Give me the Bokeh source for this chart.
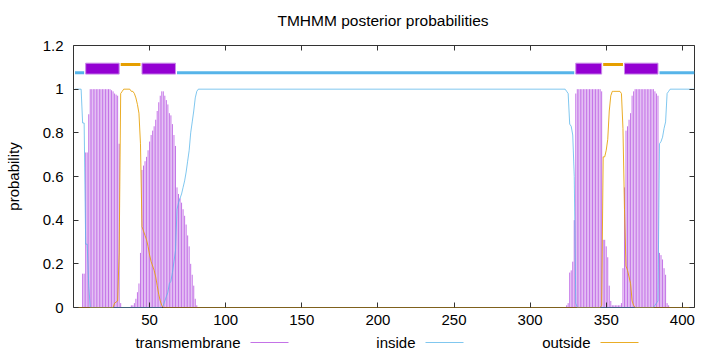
from bokeh.plotting import figure
from bokeh.layouts import column
from bokeh.models import (Range1d, LinearAxis, FixedTicker, CustomJSTickFormatter)
from bokeh.core.properties import value
from bokeh.embed import file_html
from bokeh.resources import INLINE

# ---------------- data ----------------
title_text = "TMHMM posterior probabilities"
y_label = "probability"
legend_names = ["transmembrane", "inside", "outside"]

seq_len = 408
x_ticks = [50, 100, 150, 200, 250, 300, 350, 400]
y_ticks = [0, 0.2, 0.4, 0.6, 0.8, 1.0, 1.2]
y_tick_labels = ["0", "0.2", "0.4", "0.6", "0.8", "1", "1.2"]

# predicted topology (top bar)
topo_start = [1, 8, 31, 45, 68, 330, 348, 362, 385]
topo_end = [7, 30, 44, 67, 329, 347, 361, 384, 408]
topo_kind = ["inside", "TMhelix", "outside", "TMhelix", "inside",
             "TMhelix", "outside", "TMhelix", "inside"]

# transmembrane posterior probability (impulses), residues with non-zero values
tm_pos = (list(range(6, 32)) + list(range(38, 82)) +
          list(range(324, 355)) + list(range(355, 392)))
tm_prob = (
    [0.155, 0.155, 0.71, 0.71, 0.885] + [1.0] * 14 +
    [0.995, 0.99, 0.98, 0.975, 0.97, 0.75, 0.02] +
    [0.01, 0.01, 0.02, 0.04, 0.07, 0.11, 0.25, 0.63, 0.65, 0.67, 0.69, 0.72,
     0.76, 0.79, 0.81, 0.83, 0.86, 0.90, 0.94, 0.97, 0.99, 0.99, 0.97, 0.95,
     0.93, 0.89, 0.88, 0.84, 0.79, 0.74, 0.55, 0.52, 0.50, 0.48, 0.45, 0.42,
     0.38, 0.33, 0.28, 0.20, 0.15, 0.10, 0.04, 0.01] +
    [0.01, 0.02, 0.16, 0.17, 0.21, 0.40, 0.98] + [1.0] * 16 +
    [0.99, 0.31, 0.31, 0.28, 0.23, 0.10, 0.03, 0.01] +
    [0.01, 0.01, 0.01, 0.01, 0.01, 0.02, 0.18, 0.55, 0.81, 0.83, 0.86, 0.89,
     0.97, 0.99] + [1.0] * 13 +
    [0.99, 0.98, 0.97, 0.25, 0.24, 0.22, 0.18, 0.15, 0.02, 0.01]
)

# inside posterior probability
inside_pos = ([1, 5, 6, 7, 8, 9, 10, 11] + list(range(58, 83)) +
              list(range(323, 332)) + list(range(381, 393)) + [408])
inside_prob = ([1.0, 1.0, 0.845, 0.845, 0.29, 0.29, 0.1, 0.0] +
               [0.0, 0.01, 0.03, 0.05, 0.07, 0.11, 0.12, 0.16, 0.21, 0.26,
                0.45, 0.48, 0.50, 0.52, 0.55, 0.58, 0.62, 0.67, 0.72, 0.80,
                0.85, 0.90, 0.96, 0.99, 1.0] +
               [1.0, 0.99, 0.98, 0.84, 0.83, 0.79, 0.60, 0.02, 0.0] +
               [0.0, 0.01, 0.02, 0.03, 0.75, 0.76, 0.78, 0.82, 0.85, 0.98,
                0.99, 1.0] + [1.0])

# outside posterior probability
outside_pos = ([1, 26] + list(range(27, 34)) + list(range(37, 60)) +
               list(range(346, 356)) + list(range(359, 370)) + [408])
outside_prob = ([0.0, 0.0] +
                [0.02, 0.025, 0.03, 0.25, 0.98, 0.99, 1.0] +
                [1.0, 0.99, 0.99, 0.98, 0.96, 0.93, 0.89, 0.75, 0.37, 0.35,
                 0.33, 0.31, 0.28, 0.24, 0.21, 0.19, 0.17, 0.14, 0.10, 0.06,
                 0.03, 0.01, 0.0] +
                [0.0, 0.01, 0.69, 0.69, 0.72, 0.77, 0.90, 0.97, 0.99, 0.99] +
                [0.99, 0.98, 0.82, 0.45, 0.19, 0.17, 0.14, 0.11, 0.03, 0.01,
                 0.0] + [0.0])

# ---------------- styling ----------------
FONT = "Liberation Sans"
FS = "15px"
C_TM = "#9400d3"
C_IN = "#56b4e9"
C_OUT = "#e69f00"
A_TM, A_IN, A_OUT = 0.55, 0.75, 0.85

W = 720
H_TITLE = 35
H_LEG = 18
H_MAIN = 352 - H_TITLE - H_LEG
ML, MR = 73, 26
MT = 45 - H_TITLE
MB = H_MAIN + H_TITLE - 307

p = figure(width=W, height=H_MAIN, output_backend="svg", toolbar_location=None,
           title=None,
           x_range=Range1d(0, seq_len), y_range=Range1d(0, 1.2),
           x_axis_type=None, y_axis_type=None,
           min_border_left=ML, min_border_right=MR,
           min_border_top=MT, min_border_bottom=MB)
p.grid.visible = False
p.outline_line_color = "#333333"
p.outline_line_width = 1
p.background_fill_color = "white"
p.border_fill_color = "white"


def style_axis(ax, show_labels):
    ax.axis_line_color = None
    ax.major_tick_in = 5
    ax.major_tick_out = 0
    ax.major_tick_line_color = "#333333"
    ax.minor_tick_line_color = None
    ax.major_label_text_font = FONT
    ax.major_label_text_font_size = FS
    ax.major_label_text_color = "black"
    if not show_labels:
        ax.formatter = CustomJSTickFormatter(code="return ''")
        ax.major_label_standoff = 0


xb = LinearAxis(ticker=FixedTicker(ticks=x_ticks))
style_axis(xb, True)
xb.major_label_standoff = 7
p.add_layout(xb, "below")

xt = LinearAxis(ticker=FixedTicker(ticks=x_ticks))
style_axis(xt, False)
p.add_layout(xt, "above")

yl = LinearAxis(ticker=FixedTicker(ticks=y_ticks))
style_axis(yl, True)
yl.major_label_overrides = {t: s for t, s in zip(y_ticks, y_tick_labels)}
yl.major_label_standoff = 10
yl.axis_label = y_label
yl.axis_label_text_font = FONT
yl.axis_label_text_font_size = FS
yl.axis_label_text_font_style = "normal"
yl.axis_label_text_color = "black"
yl.axis_label_standoff = 18
p.add_layout(yl, "left")

yr = LinearAxis(ticker=FixedTicker(ticks=y_ticks))
style_axis(yr, False)
p.add_layout(yr, "right")

# impulses
p.segment(x0=tm_pos, y0=[0] * len(tm_pos), x1=tm_pos, y1=tm_prob,
          line_color=C_TM, line_width=1, line_alpha=A_TM)
# lines
p.line(inside_pos, inside_prob, line_color=C_IN, line_width=1, line_alpha=A_IN)
p.line(outside_pos, outside_prob, line_color=C_OUT, line_width=1, line_alpha=A_OUT)

# topology bar
in_s = [s for s, k in zip(topo_start, topo_kind) if k == "inside"]
in_e = [e for e, k in zip(topo_end, topo_kind) if k == "inside"]
out_s = [s for s, k in zip(topo_start, topo_kind) if k == "outside"]
out_e = [e for e, k in zip(topo_end, topo_kind) if k == "outside"]
tm_s = [s for s, k in zip(topo_start, topo_kind) if k == "TMhelix"]
tm_e = [e for e, k in zip(topo_end, topo_kind) if k == "TMhelix"]

p.segment(x0=in_s, y0=[1.075] * len(in_s), x1=in_e, y1=[1.075] * len(in_s),
          line_color=C_IN, line_width=3)
p.segment(x0=out_s, y0=[1.113] * len(out_s), x1=out_e, y1=[1.113] * len(out_s),
          line_color=C_OUT, line_width=3)
p.quad(left=tm_s, right=tm_e, bottom=[1.069] * len(tm_s), top=[1.119] * len(tm_s),
       fill_color=C_TM, line_color="#c98ae9", line_width=1)


def strip(height):
    f = figure(width=W, height=height, output_backend="svg", toolbar_location=None,
               title=None,
               x_range=Range1d(ML, W - MR), y_range=Range1d(0, height),
               x_axis_type=None, y_axis_type=None,
               min_border_left=ML, min_border_right=MR,
               min_border_top=0, min_border_bottom=0)
    f.grid.visible = False
    f.outline_line_color = None
    f.background_fill_color = "white"
    f.border_fill_color = "white"
    return f


# ---------------- title strip ----------------
tt = strip(H_TITLE)
tt.text(x=[(ML + W - MR) / 2 - 1], y=[H_TITLE - 20], text=[title_text],
        text_align="center", text_baseline="middle",
        text_font=value(FONT), text_font_size=value("15.5px"), text_color="black")

# ---------------- legend strip (gnuplot style: text, then sample line) ----
leg = strip(H_LEG)
leg_text_right = [240, 415, 590]
leg_y = H_LEG - 8
leg.text(x=leg_text_right, y=[leg_y] * 3, text=legend_names,
         text_align="right", text_baseline="middle",
         text_font=value(FONT), text_font_size=value(FS), text_color="black")
for xr, col, al in zip(leg_text_right, [C_TM, C_IN, C_OUT], [A_TM, A_IN, A_OUT]):
    leg.segment(x0=[xr + 10], y0=[leg_y], x1=[xr + 48], y1=[leg_y],
                line_color=col, line_width=1, line_alpha=al)

layout = column(tt, p, leg, spacing=0)
open("out.html", "w").write(file_html(layout, INLINE))
